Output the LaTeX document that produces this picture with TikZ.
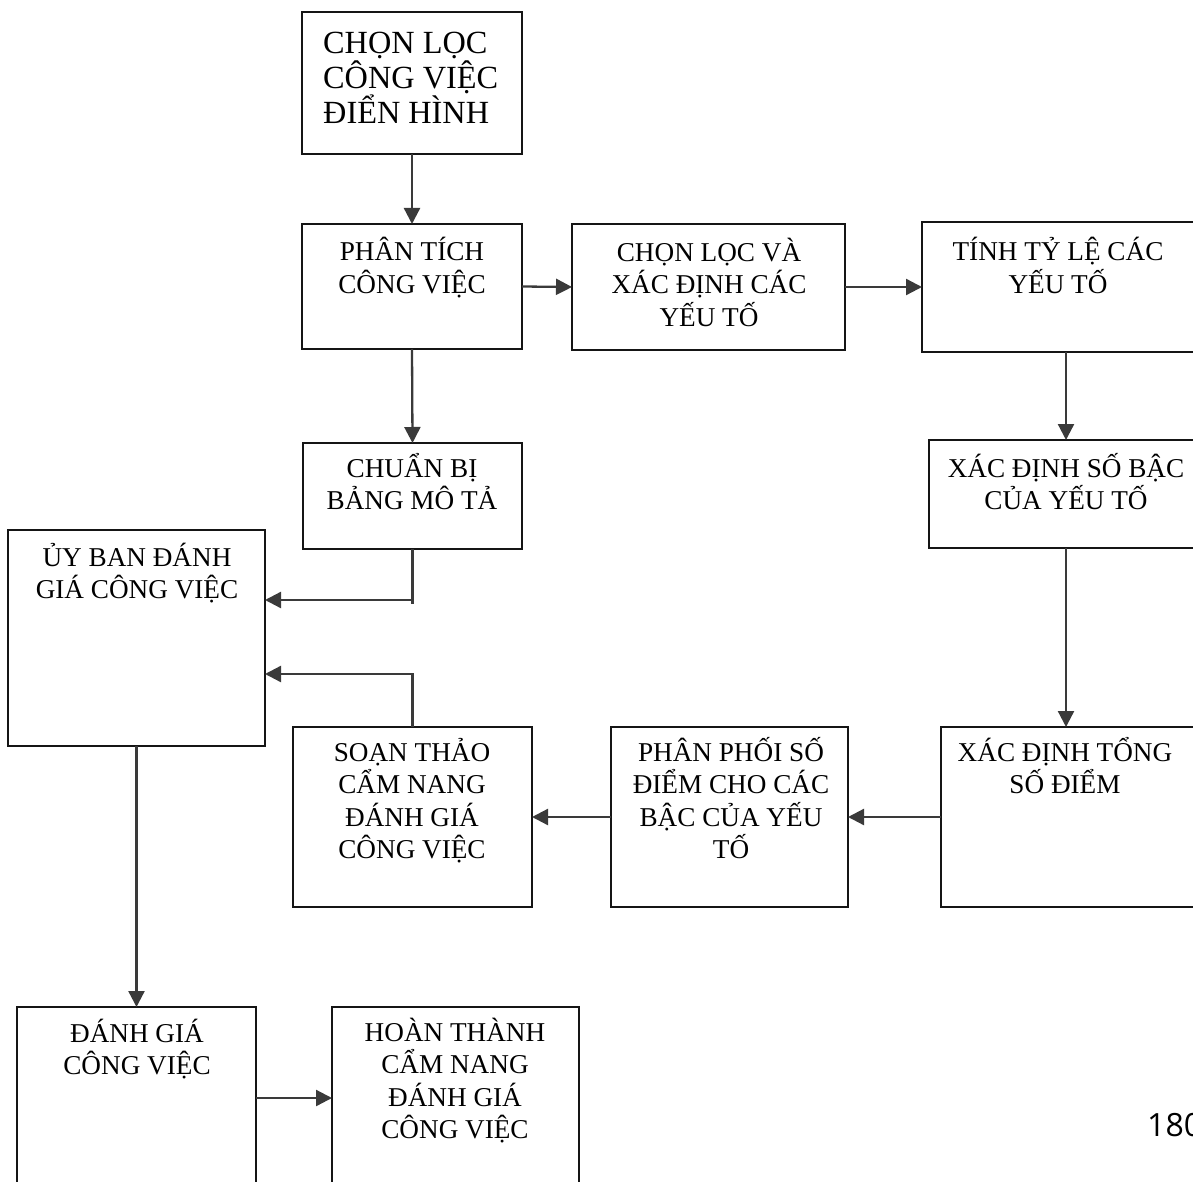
\documentclass[tikz,border=0pt]{standalone}
\usepackage{fontspec}
\setmainfont{Liberation Serif}
\newfontfamily\pagenumfont{Open Sans}
\usetikzlibrary{arrows.meta}
\definecolor{boxline}{HTML}{151515}
\definecolor{connline}{HTML}{3A3A3A}
\begin{document}
\begin{tikzpicture}[x=1pt,y=-1pt,
  box/.style={draw=boxline, line width=2.5pt, rectangle, inner sep=0pt, outer sep=0pt, anchor=north west},
  txt/.style={font=\fontsize{27.2pt}{32.5pt}\selectfont, align=center, anchor=base, inner sep=0pt},
  bigtxt/.style={font=\fontsize{32.3pt}{35pt}\selectfont, align=left, anchor=base west, inner sep=0pt},
  conn/.style={draw=connline, line width=2.3pt},
  arr/.style={conn, -{Triangle[length=16pt,width=16pt]}}]
\useasboundingbox (0,0) rectangle (1193,1182);
% boxes
\node[box, minimum width=220pt, minimum height=142pt] (b1) at (302,12) {};
\node[box, minimum width=220pt, minimum height=125pt] (b2) at (302,224) {};
\node[box, minimum width=273pt, minimum height=126pt] (b3) at (572,224) {};
\node[box, minimum width=330pt, minimum height=130pt] (b4) at (922,222) {};
\node[box, minimum width=219pt, minimum height=106pt] (b5) at (303,443) {};
\node[box, minimum width=320pt, minimum height=108pt] (b6) at (929,440) {};
\node[box, minimum width=257pt, minimum height=216pt] (b7) at (8,530) {};
\node[box, minimum width=239pt, minimum height=180pt] (b8) at (293,727) {};
\node[box, minimum width=237pt, minimum height=180pt] (b9) at (611,727) {};
\node[box, minimum width=310pt, minimum height=180pt] (b10) at (941,727) {};
\node[box, minimum width=239pt, minimum height=200pt] (b11) at (17,1007) {};
\node[box, minimum width=247pt, minimum height=200pt] (b12) at (332,1007) {};
% texts (anchor = baseline of the last line)
\node[bigtxt] (t1) at (323,124) {CHỌN LỌC\\CÔNG VIỆC\\ĐIỂN HÌNH};
\node[txt] (t2) at (412,293.5) {PHÂN TÍCH\\CÔNG VIỆC};
\node[txt] (t3) at (709,326) {CHỌN LỌC VÀ\\XÁC ĐỊNH CÁC\\YẾU TỐ};
\node[txt] (t4) at (1058,293.5) {TÍNH TỶ LỆ CÁC\\YẾU TỐ};
\node[txt] (t5) at (412,509.5) {CHUẨN BỊ\\BẢNG MÔ TẢ};
\node[txt] (t6) at (1066,509.5) {XÁC ĐỊNH SỐ BẬC\\CỦA YẾU TỐ};
\node[txt] (t7) at (137,598.5) {ỦY BAN ĐÁNH\\GIÁ CÔNG VIỆC};
\node[txt] (t8) at (412,858.5) {SOẠN THẢO\\CẨM NANG\\ĐÁNH GIÁ\\CÔNG VIỆC};
\node[txt] (t9) at (731,858.5) {PHÂN PHỐI SỐ\\ĐIỂM CHO CÁC\\BẬC CỦA YẾU\\TỐ};
\node[txt] (t10) at (1065,793.5) {XÁC ĐỊNH TỔNG\\SỐ ĐIỂM};
\node[txt] (t11) at (137,1074.5) {ĐÁNH GIÁ\\CÔNG VIỆC};
\node[txt] (t12) at (455,1138.5) {HOÀN THÀNH\\CẨM NANG\\ĐÁNH GIÁ\\CÔNG VIỆC};
\node[anchor=base west, inner sep=0pt, font=\pagenumfont\fontsize{32pt}{36pt}\selectfont] (pn) at (1147,1136) {180};
% helper coordinates
\coordinate (colR) at (1066,0);
\coordinate (row1) at (0,600);
\coordinate (row2) at (0,674);
\coordinate (row3) at (0,1098);
% connectors
\draw[arr] (b1.south) -- (b2.north);
\draw[arr] (b2.east) -- (b3.west);
\draw[arr] (b3.east) -- (b4.west |- b3.east);
\draw[arr] (b2.south) -- (b5.north);
\draw[arr] (b4.south -| colR) -- (b6.north -| colR);
\draw[arr] (b6.south -| colR) -- (b10.north -| colR);
\draw[arr] (b10.west) -- (b9.east);
\draw[arr] (b9.west) -- (b8.east);
\draw[conn] (b5.south) -- ++(0,55);
\draw[arr] (b5.south |- row1) -- (b7.east |- row1);
\draw[arr] (b8.north) |- (b7.east |- row2);
\draw[arr] (b7.south) -- (b11.north -| b7.south);
\draw[arr] (b11.east |- row3) -- (b12.west |- row3);
\end{tikzpicture}
\end{document}
